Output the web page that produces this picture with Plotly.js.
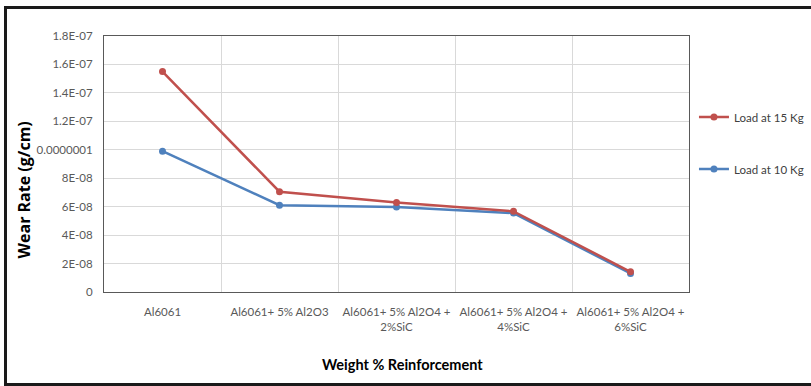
<!DOCTYPE html>
<html>
<head>
<meta charset="utf-8">
<script src="https://cdn.plot.ly/plotly-3.0.1.min.js"></script>
<style>
  html, body { margin: 0; padding: 0; background: #fff; }
  #wrap { position: relative; width: 811px; height: 386px; }
  #chart { position: absolute; left: 0; top: 0; width: 811px; height: 386px; }
  #frame { position: absolute; left: 4px; top: 6px; width: 820px; height: 374px;
           border: 3px solid #1a1a1a; pointer-events: none; }
</style>
</head>
<body>
<div id="wrap">
  <div id="chart"></div>
  <div id="frame"></div>
</div>
<script>
const categories = [
  "Al6061",
  "Al6061+ 5% Al2O3",
  "Al6061+ 5% Al2O4 +<br>2%SiC",
  "Al6061+ 5% Al2O4 +<br>4%SiC",
  "Al6061+ 5% Al2O4 +<br>6%SiC"
];
const load10 = [9.9e-8, 6.1e-8, 5.98e-8, 5.55e-8, 1.3e-8];
const load15 = [1.55e-7, 7.05e-8, 6.3e-8, 5.67e-8, 1.42e-8];
const yTickVals = [0, 2e-8, 4e-8, 6e-8, 8e-8, 1e-7, 1.2e-7, 1.4e-7, 1.6e-7, 1.8e-7];
const yTickText = ["0", "2E-08", "4E-08", "6E-08", "8E-08", "0.0000001", "1.2E-07", "1.4E-07", "1.6E-07", "1.8E-07"];

const font = 'Lato, "Liberation Sans", sans-serif';

const traces = [
  {
    x: categories, y: load10, name: "Load at 10 Kg", type: "scatter", mode: "lines+markers",
    line: { color: "#4F81BD", width: 2.5 }, marker: { color: "#4F81BD", size: 7 },
    legendgroup: "a", legendrank: 2
  },
  {
    x: categories, y: load15, name: "Load at 15 Kg", type: "scatter", mode: "lines+markers",
    line: { color: "#C0504D", width: 2.5 }, marker: { color: "#C0504D", size: 7 },
    legendgroup: "b", legendrank: 1
  }
];

const layout = {
  width: 811, height: 386,
  margin: { l: 104, r: 122, t: 36, b: 94, autoexpand: false },
  paper_bgcolor: "#fff", plot_bgcolor: "#fff",
  font: { family: font, size: 12, color: "#595959" },
  showlegend: true,
  legend: {
    x: 1.0085, xanchor: "left", y: 0.74, yanchor: "top",
    traceorder: "grouped", tracegroupgap: 33,
    font: { family: font, size: 11.5, color: "#404040" },
    itemwidth: 30
  },
  xaxis: {
    type: "category", tickson: "boundaries", range: [-0.5, 4.5], automargin: false,
    showgrid: true, gridcolor: "#D9D9D9", gridwidth: 1,
    showline: true, linecolor: "#595959", linewidth: 1, mirror: true,
    ticks: "", ticklabelstandoff: 9,
    tickfont: { family: font, size: 11.5, color: "#595959" },
    zeroline: false, fixedrange: true
  },
  yaxis: {
    range: [0, 1.8e-7], automargin: false,
    tickmode: "array", tickvals: yTickVals, ticktext: yTickText,
    showgrid: true, gridcolor: "#D9D9D9", gridwidth: 1,
    showline: true, linecolor: "#595959", linewidth: 1, mirror: true,
    ticks: "outside", ticklen: 8, tickcolor: "#fff",
    tickfont: { family: font, size: 11.5, color: "#595959" },
    zeroline: false, fixedrange: true
  },
  annotations: [
    {
      text: "<b>Wear Rate (g/cm)</b>", textangle: -90,
      xref: "paper", yref: "paper", x: -0.137, y: 0.40,
      xanchor: "center", yanchor: "middle", showarrow: false,
      font: { family: "Open Sans, sans-serif", size: 16, color: "#000" }
    },
    {
      text: "<b>Weight % Reinforcement</b>",
      xref: "paper", yref: "paper", x: 0.511, y: -0.285,
      xanchor: "center", yanchor: "middle", showarrow: false,
      font: { family: font, size: 14.5, color: "#000" }
    }
  ]
};

Plotly.newPlot("chart", traces, layout, { displayModeBar: false, staticPlot: true });
</script>
</body>
</html>
